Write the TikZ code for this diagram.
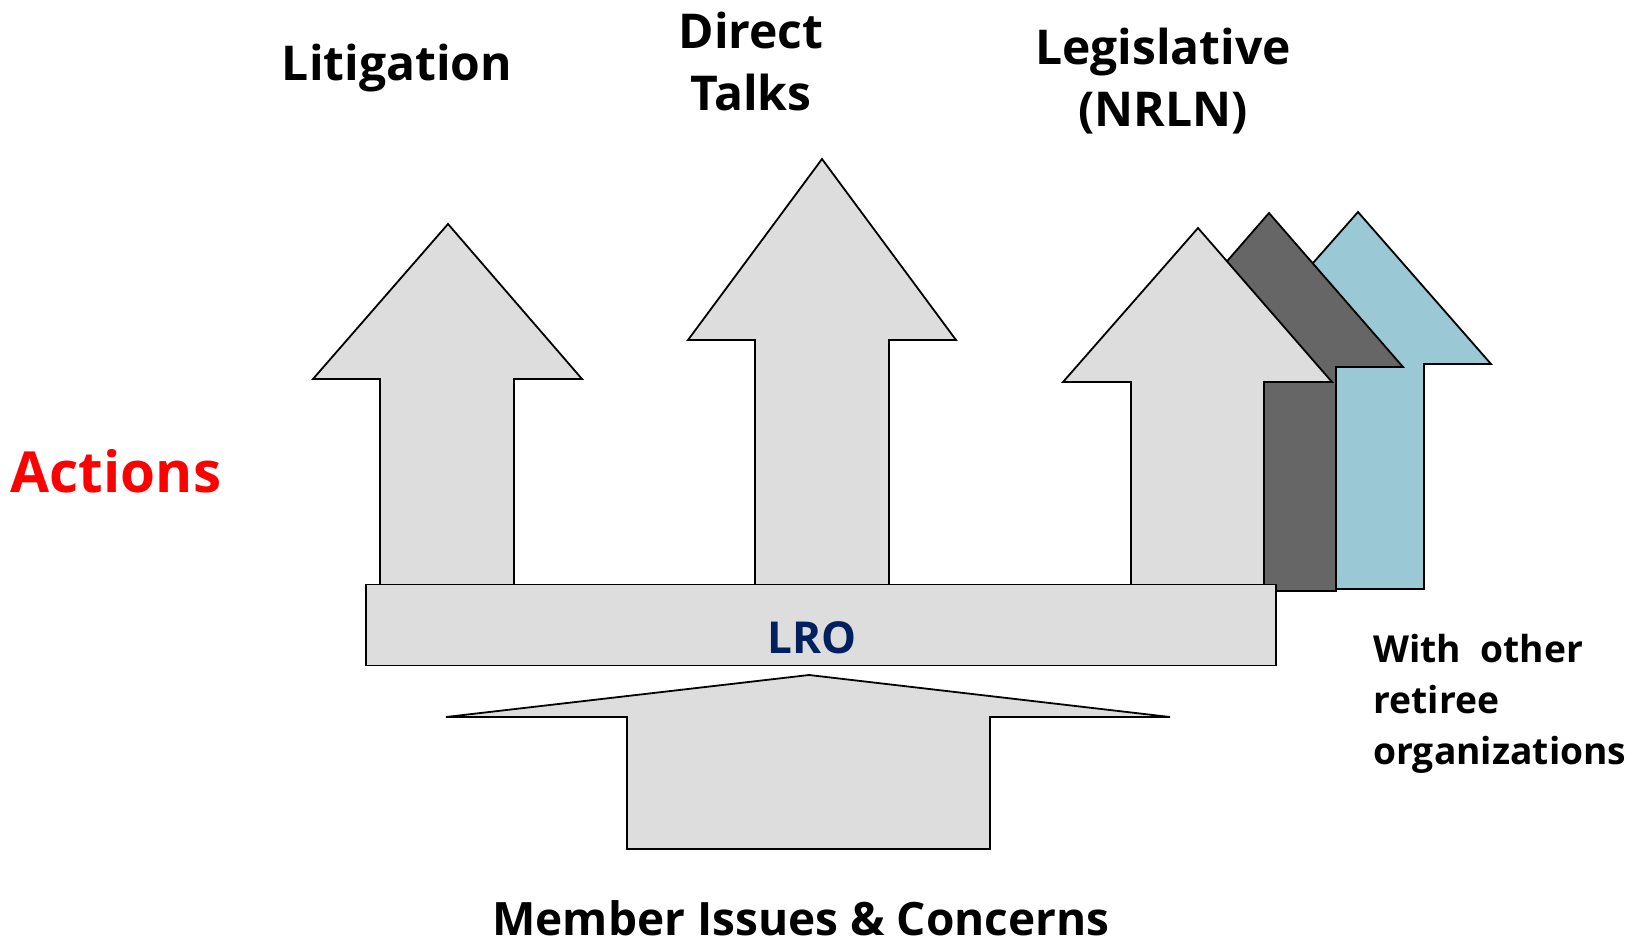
\documentclass[tikz,border=0pt]{standalone}
\usepackage{fontspec}
\setmainfont{Open Sans}
\definecolor{lgray}{HTML}{DDDDDD}
\definecolor{dgray}{HTML}{666666}
\definecolor{lblue}{HTML}{9BC8D5}
\definecolor{lronavy}{HTML}{002060}
\begin{document}
\begin{tikzpicture}[x=0.5pt,y=-0.5pt,
  shapebox/.style={draw=black,line width=0.9pt,line join=miter},
  lbl/.style={font=\bfseries\fontsize{24}{31}\selectfont,align=center,inner sep=0pt}]
\useasboundingbox (0,0) rectangle (1640,948);
% legislative stack (back to front)
\draw[shapebox,fill=lblue] (1358,212) -- (1491,364) -- (1424,364) -- (1424,589) -- (1291,589) -- (1291,364) -- (1224,364) -- cycle;
\draw[shapebox,fill=dgray] (1269,213) -- (1403,367) -- (1336,367) -- (1336,591) -- (1203,591) -- (1203,367) -- (1135,367) -- cycle;
\draw[shapebox,fill=lgray] (1198,228) -- (1332,382) -- (1264,382) -- (1264,590) -- (1131,590) -- (1131,382) -- (1063,382) -- cycle;
% litigation
\draw[shapebox,fill=lgray] (448,224) -- (582,379) -- (514,379) -- (514,590) -- (380,590) -- (380,379) -- (313,379) -- cycle;
% direct talks
\draw[shapebox,fill=lgray] (822,159) -- (956,340) -- (889,340) -- (889,590) -- (755,590) -- (755,340) -- (688,340) -- cycle;
% LRO bar
\node[shapebox,fill=lgray,minimum width=455pt,minimum height=40.5pt,inner sep=0pt] (lro) at (821,625) {};
\node[font=\bfseries\fontsize{22}{26}\selectfont,text=lronavy,inner sep=0pt] (lrotext) at (812,638) {LRO};
% bottom arrow
\draw[shapebox,fill=lgray] (809,675) -- (1170,717) -- (990,717) -- (990,849) -- (627,849) -- (627,717) -- (446,717) -- cycle;
% labels
\node[lbl] (lit) at (397,68) {Litigation};
\node[lbl] (dt) at (751,61) {Direct\\Talks};
\node[lbl] (leg) at (1163,81) {Legislative\\(NRLN)};
\node[font=\bfseries\fontsize{28.3}{34}\selectfont,text=red,inner sep=0pt] (act) at (116,471) {Actions};
\node[lbl,font=\bfseries\fontsize{23}{28}\selectfont] (mic) at (801,918) {Member Issues \& Concerns};
\node[font=\bfseries\fontsize{18.6}{25.5}\selectfont,align=left,inner sep=0pt,anchor=north west] (with) at (1373,634) {With\ \ other\\retiree\\organizations};
\end{tikzpicture}
\end{document}
